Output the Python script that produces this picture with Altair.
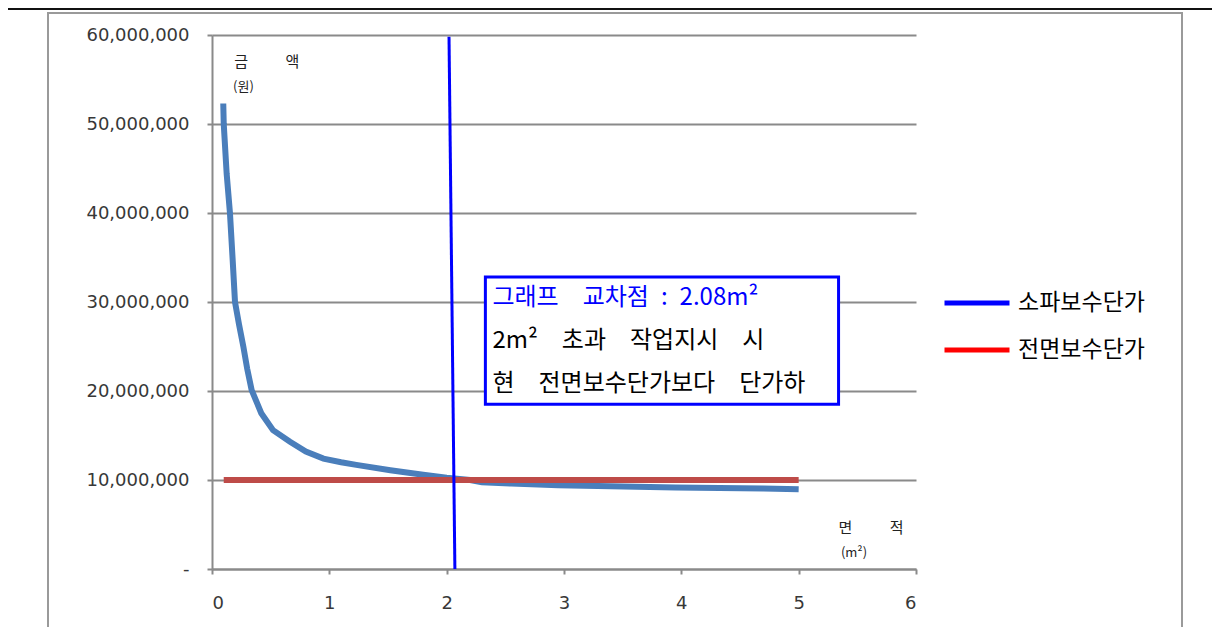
import altair as alt
import pandas as pd

# ---- data ----
curve_x = [0.096, 0.10, 0.125, 0.153, 0.175, 0.196, 0.23, 0.267, 0.30, 0.338, 0.42, 0.52,
           0.665, 0.80, 0.95, 1.10, 1.23, 1.52, 1.80, 2.00, 2.20, 2.30, 2.55, 2.95, 3.40,
           3.95, 4.70, 5.00]
curve_y = [52.3e6, 50.0e6, 44.4e6, 40.0e6, 35.0e6, 30.0e6, 27.5e6, 25.0e6, 22.5e6, 20.1e6,
           17.5e6, 15.6e6, 14.3e6, 13.2e6, 12.4e6, 12.0e6, 11.7e6, 11.1e6, 10.6e6, 10.25e6,
           10.0e6, 9.75e6, 9.6e6, 9.4e6, 9.3e6, 9.15e6, 9.05e6, 8.95e6]

flat_x = [0.1, 5.0]
flat_y = [10.0e6, 10.0e6]

cross_x = [2.02, 2.07]
cross_y = [59.8e6, 0.0]

legend_names = ["소파보수단가", "전면보수단가"]
legend_colors = ["#0000FF", "#FF0000"]

x_ticks = [0, 1, 2, 3, 4, 5, 6]
y_ticks = [0, 10e6, 20e6, 30e6, 40e6, 50e6, 60e6]

S = "\u3000"
E = "\u2002"
box_lines = ["그래프" + S + "교차점" + E + ":" + E + "2.08m²",
             "2m²" + S + "초과" + S + "작업지시" + S + "시",
             "현" + S + "전면보수단가보다" + S + "단가하"]

KFONT = "Noto Sans CJK KR"

curve_df = pd.DataFrame({"x": curve_x, "y": curve_y})
flat_df = pd.DataFrame({"x": flat_x, "y": flat_y})
cross_df = pd.DataFrame({"x": cross_x, "y": cross_y})
legend_df = pd.DataFrame({"series": legend_names})
one = pd.DataFrame({"a": [0]})

xscale = alt.Scale(domain=[0, 6], nice=False)
yscale = alt.Scale(domain=[0, 60e6], nice=False)

xenc = alt.X("x:Q", scale=xscale,
             axis=alt.Axis(values=x_ticks, format="d", title=None, grid=False, labelPadding=20))
yenc = alt.Y("y:Q", scale=yscale,
             axis=alt.Axis(values=y_ticks, title=None, grid=True, labelPadding=18,
                           labelExpr="datum.value == 0 ? '-' : format(datum.value, ',')"))

frame = alt.Chart(one).mark_rect(fill="white", fillOpacity=0, stroke="#9a9a9a", strokeWidth=2).encode(
    x=alt.value(-164), x2=alt.value(970), y=alt.value(-22), y2=alt.value(620))

topline = alt.Chart(one).mark_rule(color="#111111", strokeWidth=2).encode(
    x=alt.value(-207), x2=alt.value(1000), y=alt.value(-26))

curve = alt.Chart(curve_df).mark_line(color="#4A7EBB", strokeWidth=6).encode(x=xenc, y=yenc)
flat = alt.Chart(flat_df).mark_line(color="#BE4B48", strokeWidth=6).encode(x="x:Q", y="y:Q")
cross = alt.Chart(cross_df).mark_line(color="#0000FF", strokeWidth=3).encode(x="x:Q", y="y:Q")

legend_layer = alt.Chart(legend_df).mark_point(opacity=0).encode(
    color=alt.Color("series:N",
                    scale=alt.Scale(domain=legend_names, range=legend_colors),
                    legend=alt.Legend(title=None, orient="none", legendX=730, legendY=233,
                                      symbolType="stroke", symbolSize=4225, symbolStrokeWidth=5,
                                      symbolOpacity=1, labelFont=KFONT, labelFontSize=23,
                                      labelColor="#000000", rowPadding=-3, labelOffset=6)))

box = alt.Chart(one).mark_rect(fill="white", stroke="#0000FF", strokeWidth=3).encode(
    x=alt.datum(2.33), x2=alt.datum(5.34), y=alt.datum(32.8e6), y2=alt.datum(18.5e6))

t1 = alt.Chart(one).mark_text(text=box_lines[0], font=KFONT, fontSize=24, color="#0000FF",
                              align="left", baseline="middle").encode(
    x=alt.datum(2.39), y=alt.datum(30.5e6))
t2 = alt.Chart(one).mark_text(text=box_lines[1], font=KFONT, fontSize=24, color="#000000",
                              align="left", baseline="middle").encode(
    x=alt.datum(2.39), y=alt.datum(25.6e6))
t3 = alt.Chart(one).mark_text(text=box_lines[2], font=KFONT, fontSize=24, color="#000000",
                              align="left", baseline="middle").encode(
    x=alt.datum(2.39), y=alt.datum(20.8e6))

ylab1 = alt.Chart(one).mark_text(text="금" + S + S + E + "액", font=KFONT, fontSize=15, color="#222222",
                                 align="left", baseline="middle").encode(
    x=alt.datum(0.19), y=alt.datum(57.0e6))
ylab2 = alt.Chart(one).mark_text(text="(원)", font=KFONT, fontSize=13, color="#222222",
                                 align="left", baseline="middle").encode(
    x=alt.datum(0.18), y=alt.datum(54.2e6))
xlab1 = alt.Chart(one).mark_text(text="면" + S + S + E + "적", font=KFONT, fontSize=15, color="#222222",
                                 align="left", baseline="middle").encode(
    x=alt.datum(5.34), y=alt.datum(4.6e6))
xlab2 = alt.Chart(one).mark_text(text="(m²)", font=KFONT, fontSize=13, color="#222222",
                                 align="left", baseline="middle").encode(
    x=alt.datum(5.36), y=alt.datum(1.8e6))

chart = alt.layer(frame, topline, curve, flat, cross, box, t1, t2, t3,
                  ylab1, ylab2, xlab1, xlab2, legend_layer).properties(
    width=704, height=534,
    padding={"left": 204, "top": 27, "right": 297, "bottom": 58},
    autosize="none",
).configure_view(stroke=None).configure_axis(
    gridColor="#8a8a8a", gridWidth=2, domainColor="#8a8a8a", domainWidth=2,
    tickColor="#8a8a8a", tickWidth=2, tickSize=5,
    labelFont="DejaVu Sans", labelFontSize=18, labelColor="#383838",
)

chart.save("out.html", embed_options={"renderer": "svg", "actions": False})
